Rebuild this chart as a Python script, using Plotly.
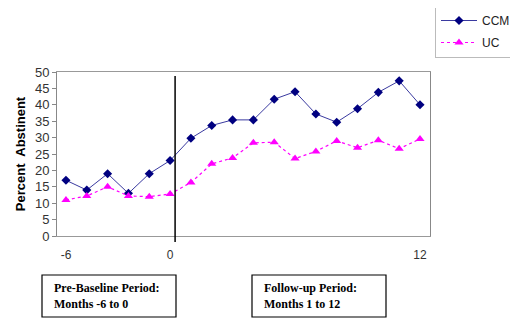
import plotly.graph_objects as go

months = ["-6", "-5", "-4", "-3", "-2", "0", "1", "2", "3", "4", "5", "6",
          "7", "8", "9", "10", "11", "12"]
ccm = [17, 14, 19, 13, 19, 23, 29.8, 33.7, 35.4, 35.4, 41.7, 44, 37.2, 34.7, 38.8, 43.8, 47.3, 40]
uc = [11, 12.2, 15, 12.2, 12, 12.8, 16.3, 22, 23.8, 28.4, 28.6, 23.6, 25.8, 29, 26.9, 29.2, 26.6, 29.6]
x_ticks = ["-6", "0", "12"]
y_ticks = [0, 5, 10, 15, 20, 25, 30, 35, 40, 45, 50]

OFF = 8  # default page body margin
fig = go.Figure()
fig.add_trace(go.Scatter(
    x=months, y=ccm, name="CCM", mode="lines+markers", legendgroup="a",
    line=dict(color="#3a3aa0", width=1),
    marker=dict(symbol="diamond", size=7, color="#000080"),
))
fig.add_trace(go.Scatter(
    x=months, y=uc, name="UC", mode="lines+markers", legendgroup="b",
    line=dict(color="#ff00ff", width=1.2, dash="dot"),
    marker=dict(symbol="triangle-up", size=8, color="#ff00ff"),
))

# vertical baseline divider
fig.add_shape(type="line", xref="x", yref="paper", x0=5.24, x1=5.24, y0=-0.037, y1=0.976,
              line=dict(color="black", width=1.5))

# period boxes
boxes = [
    (42, 176, "<b>Pre-Baseline Period:</b><br><b>Months -6 to 0</b>"),
    (252, 386, "<b>Follow-up Period:</b><br><b>Months 1 to 12</b>"),
]
L, R, T, B = 57, 430, 72, 236
W, H = R - L, B - T
for x0, x1, txt in boxes:
    fig.add_shape(type="rect", xref="paper", yref="paper",
                  x0=(x0 - L) / W, x1=(x1 - L) / W,
                  y0=(B - 317) / H, y1=(B - 275) / H,
                  line=dict(color="black", width=1.2), fillcolor="white")
    fig.add_annotation(xref="paper", yref="paper", x=(x0 + 10 - L) / W, y=(B - 296) / H,
                       xanchor="left", yanchor="middle", text=txt, showarrow=False, align="left",
                       font=dict(family="Liberation Serif", size=12, color="black"))

fig.update_layout(
    width=518 - OFF, height=320 - OFF,
    margin=dict(l=L - OFF, r=518 - R, t=T - OFF, b=320 - B, autoexpand=False),
    paper_bgcolor="white", plot_bgcolor="white",
    font=dict(family="Liberation Sans", size=13, color="#333"),
    showlegend=True,
    legend=dict(x=(435 - L) / W, y=(B - 5) / H, xanchor="left", yanchor="top",
                bordercolor="#bbb", borderwidth=1, bgcolor="white",
                itemwidth=36, font=dict(size=12, color="#222"),
                tracegroupgap=3),
    xaxis=dict(type="category", categoryorder="array", categoryarray=months,
               tickmode="array", tickvals=x_ticks, ticktext=x_ticks,
               range=[-0.43, 17.48], showgrid=False, zeroline=False,
               showline=True, mirror=True, linecolor="#999", linewidth=1,
               ticks="outside", ticklen=8, tickcolor="white",
               tickfont=dict(size=12)),
    yaxis=dict(range=[0, 50], tickvals=y_ticks, showgrid=False, zeroline=False,
               showline=True, mirror=True, linecolor="#888", linewidth=1,
               ticks="outside", ticklen=4, tickcolor="#888",
               title=dict(text="<b>Percent  Abstinent</b>", font=dict(size=13, color="black"),
                          standoff=6)),
)

fig.write_html("out.html")
